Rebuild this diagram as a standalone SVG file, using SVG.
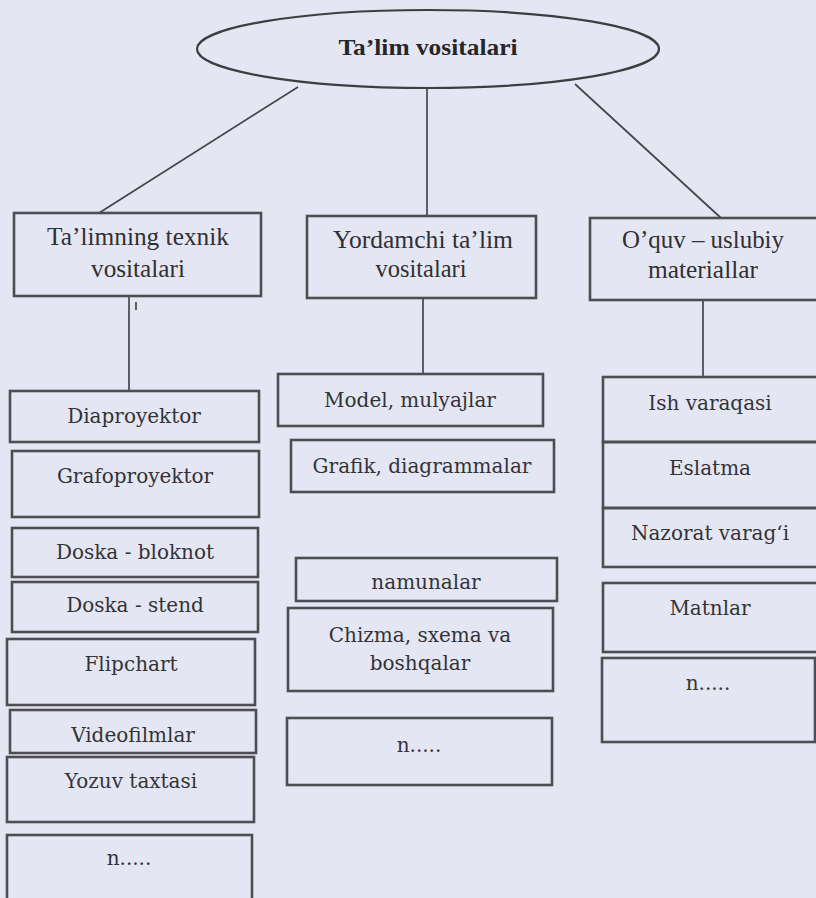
<svg xmlns="http://www.w3.org/2000/svg" width="816" height="898" viewBox="0 0 816 898">
  <style>
    .box { fill: none; stroke: #4e4e52; stroke-width: 2.6; }
    .edge { fill: none; stroke: #46464a; stroke-width: 1.7; }
    .head { font-family: "Liberation Serif", "Times New Roman", serif; font-size: 26px; fill: #303034; text-anchor: middle; }
    .item { font-family: "DejaVu Serif", "Liberation Serif", serif; font-size: 20px; fill: #333337; text-anchor: middle; }
    .title { font-family: "Liberation Serif", "Times New Roman", serif; font-size: 24px; font-weight: bold; fill: #262628; text-anchor: middle; }
  </style>
  <rect x="0" y="0" width="816" height="898" fill="#e5e6f3"/>

  <!-- connectors -->
  <g id="connectors">
    <line class="edge" x1="298" y1="87" x2="99" y2="213"/>
    <line class="edge" x1="427" y1="89" x2="427" y2="216"/>
    <line class="edge" x1="575" y1="84" x2="721" y2="218"/>
    <line class="edge" x1="129" y1="296" x2="129" y2="391"/>
    <line class="edge" x1="136" y1="302" x2="136" y2="310"/>
    <line class="edge" x1="423" y1="298" x2="423" y2="374"/>
    <line class="edge" x1="703" y1="300" x2="703" y2="377"/>
  </g>

  <!-- root -->
  <g id="root">
    <ellipse cx="428" cy="49" rx="231" ry="39" fill="none" stroke="#3e3e42" stroke-width="2.2"/>
    <text class="title" x="428" y="55" textLength="179" lengthAdjust="spacingAndGlyphs">Ta’lim vositalari</text>
  </g>

  <!-- second level -->
  <g id="texnik">
    <rect class="box" x="14" y="213" width="247" height="83"/>
    <text class="head" x="138" y="245" textLength="182" lengthAdjust="spacingAndGlyphs">Ta’limning texnik</text>
    <text class="head" x="138" y="277" textLength="94" lengthAdjust="spacingAndGlyphs">vositalari</text>
  </g>
  <g id="yordamchi">
    <rect class="box" x="307" y="216" width="229" height="82"/>
    <text class="head" x="423" y="248" textLength="180" lengthAdjust="spacingAndGlyphs">Yordamchi ta’lim</text>
    <text class="head" x="421" y="277" textLength="91" lengthAdjust="spacingAndGlyphs">vositalari</text>
  </g>
  <g id="uslubiy">
    <rect class="box" x="590" y="218" width="230" height="82"/>
    <text class="head" x="703" y="248" textLength="162" lengthAdjust="spacingAndGlyphs">O’quv – uslubiy</text>
    <text class="head" x="703" y="278" textLength="110" lengthAdjust="spacingAndGlyphs">materiallar</text>
  </g>

  <!-- technical aids -->
  <g id="diaproyektor">
    <rect class="box" x="10" y="391" width="249" height="51"/>
    <text class="item" x="134" y="423">Diaproyektor</text>
  </g>
  <g id="grafoproyektor">
    <rect class="box" x="12" y="451" width="247" height="66"/>
    <text class="item" x="135" y="483">Grafoproyektor</text>
  </g>
  <g id="doska-bloknot">
    <rect class="box" x="12" y="528" width="246" height="49"/>
    <text class="item" x="135" y="559">Doska - bloknot</text>
  </g>
  <g id="doska-stend">
    <rect class="box" x="12" y="582" width="246" height="50"/>
    <text class="item" x="135" y="612">Doska - stend</text>
  </g>
  <g id="flipchart">
    <rect class="box" x="7" y="639" width="248" height="66"/>
    <text class="item" x="131" y="671">Flipchart</text>
  </g>
  <g id="videofilmlar">
    <rect class="box" x="10" y="710" width="246" height="43"/>
    <text class="item" x="133" y="742">Videofilmlar</text>
  </g>
  <g id="yozuv">
    <rect class="box" x="7" y="757" width="247" height="65"/>
    <text class="item" x="131" y="788">Yozuv taxtasi</text>
  </g>
  <g id="texnik-n">
    <rect class="box" x="7" y="835" width="245" height="75"/>
    <text class="item" x="129" y="865">n.....</text>
  </g>

  <!-- auxiliary aids -->
  <g id="model">
    <rect class="box" x="278" y="374" width="265" height="52"/>
    <text class="item" x="410" y="407">Model, mulyajlar</text>
  </g>
  <g id="grafik">
    <rect class="box" x="291" y="440" width="263" height="52"/>
    <text class="item" x="422" y="473">Grafik, diagrammalar</text>
  </g>
  <g id="namunalar">
    <rect class="box" x="296" y="558" width="261" height="43"/>
    <text class="item" x="426" y="589">namunalar</text>
  </g>
  <g id="chizma">
    <rect class="box" x="288" y="608" width="265" height="83"/>
    <text class="item" x="420" y="642">Chizma, sxema va</text>
    <text class="item" x="420" y="670">boshqalar</text>
  </g>
  <g id="yordamchi-n">
    <rect class="box" x="287" y="718" width="265" height="67"/>
    <text class="item" x="419" y="752">n.....</text>
  </g>

  <!-- methodical materials -->
  <g id="ish-varaqasi">
    <rect class="box" x="603" y="377" width="217" height="65"/>
    <text class="item" x="710" y="410">Ish varaqasi</text>
  </g>
  <g id="eslatma">
    <rect class="box" x="603" y="442" width="217" height="66"/>
    <text class="item" x="710" y="475">Eslatma</text>
  </g>
  <g id="nazorat">
    <rect class="box" x="603" y="508" width="217" height="59"/>
    <text class="item" x="710" y="540">Nazorat varag‘i</text>
  </g>
  <g id="matnlar">
    <rect class="box" x="603" y="583" width="215" height="69"/>
    <text class="item" x="710" y="615">Matnlar</text>
  </g>
  <g id="uslubiy-n">
    <rect class="box" x="602" y="658" width="213" height="84"/>
    <text class="item" x="708" y="690">n.....</text>
  </g>
</svg>
